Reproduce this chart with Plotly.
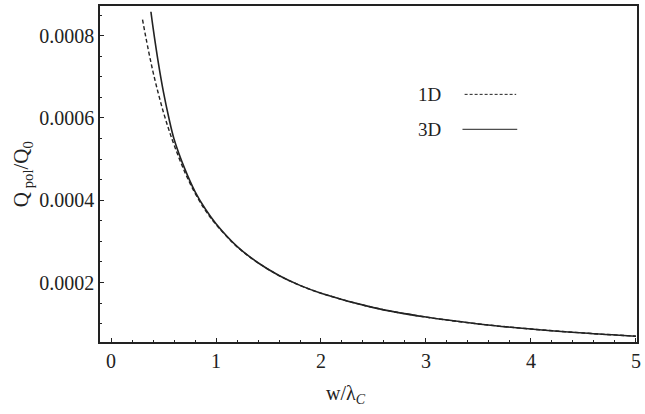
import plotly.graph_objects as go

# Data
x_1d = [0.30, 0.35, 0.40, 0.45, 0.50, 0.55, 0.60, 0.70, 0.80, 0.90, 1.0, 1.2, 1.4, 1.6, 1.8, 2.0, 2.5, 3.0, 3.5, 4.0, 4.5, 5.0]
q_1d = [0.000839, 0.000772, 0.000712, 0.000660, 0.000613, 0.000572, 0.000535, 0.000470, 0.000417, 0.000375, 0.000341,
        0.000287, 0.000248, 0.000217, 0.000193, 0.000174, 0.000139, 0.000116, 0.0000993, 0.0000869, 0.0000773, 0.0000695]
x_3d = [0.38, 0.40, 0.45, 0.50, 0.55, 0.60, 0.70, 0.80, 0.90, 1.0, 1.2, 1.4, 1.6, 1.8, 2.0, 2.5, 3.0, 3.5, 4.0, 4.5, 5.0]
q_3d = [0.000858, 0.000820, 0.000735, 0.000662, 0.000601, 0.000549, 0.000478, 0.000421, 0.000378, 0.000343,
        0.000288, 0.000248, 0.000217, 0.000193, 0.000174, 0.000139, 0.000116, 0.0000993, 0.0000869, 0.0000773, 0.0000695]
x_ticks = [0, 1, 2, 3, 4, 5]
y_ticks = [0.0002, 0.0004, 0.0006, 0.0008]
y_tick_text = ["0.0002", "0.0004", "0.0006", "0.0008"]

FONT = "Liberation Serif"
fig = go.Figure()
fig.add_trace(go.Scatter(x=x_1d, y=q_1d, mode="lines", line=dict(color="#222", width=1.4, dash="4px,2.5px", shape="spline"), showlegend=False))
fig.add_trace(go.Scatter(x=x_3d, y=q_3d, mode="lines", line=dict(color="#222", width=1.6, shape="spline"), showlegend=False))

axis_common = dict(showline=True, linecolor="#222", linewidth=1.5, mirror=True, showgrid=False, zeroline=False,
                   ticks="inside", ticklen=4, tickcolor="#222", tickwidth=1,
                   tickfont=dict(family=FONT, size=20, color="#222"))
fig.update_xaxes(range=[-0.105, 5.01], tickvals=x_ticks,
                 minor=dict(dtick=0.2, ticks="inside", ticklen=2, tickcolor="#222"), **axis_common)
fig.update_yaxes(range=[0.0000554, 0.000872], tickvals=y_ticks, ticktext=y_tick_text,
                 minor=dict(dtick=0.00005, tick0=0, ticks="inside", ticklen=2, tickcolor="#222"), **axis_common)

# legend
fig.add_annotation(x=0.613, y=0.737, xref="paper", yref="paper", text="1D", showarrow=False,
                   xanchor="center", yanchor="middle", font=dict(family=FONT, size=19, color="#222"))
fig.add_annotation(x=0.613, y=0.633, xref="paper", yref="paper", text="3D", showarrow=False,
                   xanchor="center", yanchor="middle", font=dict(family=FONT, size=19, color="#222"))
fig.add_shape(type="line", xref="paper", yref="paper", x0=0.679, x1=0.775, y0=0.737, y1=0.737,
              line=dict(color="#222", width=1, dash="3px,2px"))
fig.add_shape(type="line", xref="paper", yref="paper", x0=0.675, x1=0.777, y0=0.633, y1=0.633,
              line=dict(color="#222", width=1))

# axis titles
fig.add_annotation(x=0.459, y=-0.157, xref="paper", yref="paper", showarrow=False,
                   xanchor="center", yanchor="middle",
                   text="w/λ<sub><i>C</i></sub>", font=dict(family=FONT, size=20, color="#222"))
fig.add_annotation(x=-0.145, y=0.5, xref="paper", yref="paper", showarrow=False, textangle=-90,
                   xanchor="center", yanchor="middle",
                   text="Q<sub> pol</sub>/Q<sub>0</sub>", font=dict(family=FONT, size=21, color="#222"))

fig.update_layout(width=645, height=414, margin=dict(l=100, r=7, t=4, b=72),
                  plot_bgcolor="white", paper_bgcolor="white")
fig.write_html("out.html")
